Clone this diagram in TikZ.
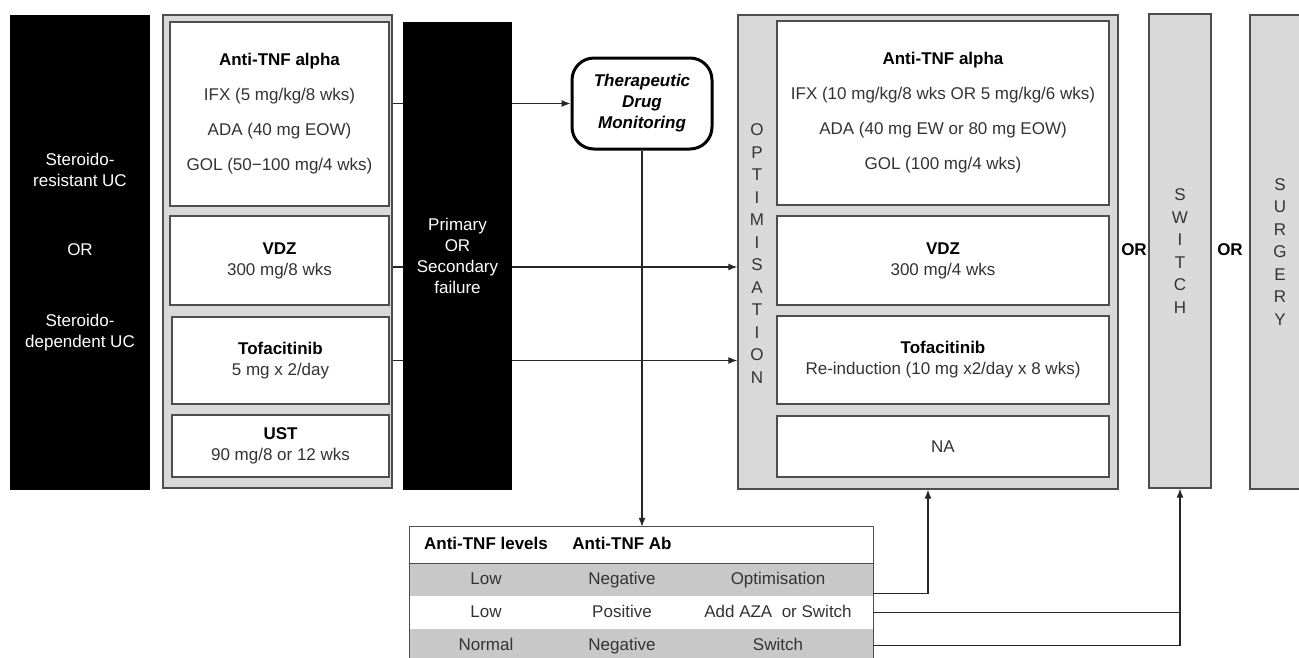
\documentclass[tikz,border=0pt]{standalone}
\usepackage{fontspec}
\setmainfont{Liberation Sans}
\usepackage{tikz}
\usetikzlibrary{arrows.meta}
\usetikzlibrary{backgrounds}
\definecolor{boxgray}{HTML}{D9D9D9}
\definecolor{rowgray}{HTML}{C8C8C8}
\definecolor{linegray}{HTML}{4D4D4D}
\definecolor{txtgray}{HTML}{333333}
\newcommand{\drug}[1]{\textbf{\color{black}#1}}
\tikzstyle{blackcol} = [fill=black,text=white,inner sep=0mm,align=center]
\tikzstyle{graycol} = [draw=linegray,fill=boxgray,line width=1.3pt,inner sep=0mm]
\tikzstyle{drugbox} = [draw=linegray,fill=white,line width=1.3pt,inner sep=0mm,align=center,text=txtgray]
\tikzstyle{vword} = [align=center,text=txtgray,font=\fontsize{17}{22.5}\selectfont]
\tikzstyle{orword} = [inner sep=0mm,font=\bfseries]
\tikzstyle{tdmbox} = [draw,fill=white,line width=3pt,rounded corners=22pt,align=center,inner sep=0mm,font=\bfseries\itshape,minimum width=140pt,minimum height=91pt]
\tikzstyle{trow} = [inner sep=0mm,minimum width=463pt]
\tikzstyle{cell} = [inner sep=0mm,text=txtgray,text height=12.5pt,text depth=3.5pt]
\tikzstyle{conn} = [draw=black!85,line width=1.2pt]
\tikzstyle{arr} = [conn,-{Latex[length=9pt,width=7pt]}]

\begin{document}
\fontsize{17}{21}\selectfont
\begin{tikzpicture}[x=1pt,y=-1pt]
\path[use as bounding box,clip] (0,0) rectangle (1299,657);

% patients
\draw(80,252.5) node[blackcol,minimum width=140pt,minimum height=475pt] (uc) {Steroido-\\resistant UC\\[48pt]OR\\[50pt]Steroido-\\dependent UC};

% first line
\draw(277.5,251.5) node[graycol,minimum width=229pt,minimum height=473pt] (first) {};
\draw(279.5,114) node[drugbox,minimum width=219pt,minimum height=184pt] (atnf1) {\drug{Anti-TNF alpha}\\[14pt]IFX (5 mg/kg/8 wks)\\[14pt]ADA (40 mg EOW)\\[14pt]GOL (50−100 mg/4 wks)};
\draw(279.5,260.5) node[drugbox,minimum width=219pt,minimum height=89pt] (vdz1) {\drug{VDZ}\\300 mg/8 wks};
\draw(280.5,360.5) node[drugbox,minimum width=217pt,minimum height=87pt] (tofa1) {\drug{Tofacitinib}\\5 mg x 2/day};
\draw(280.5,446) node[drugbox,minimum width=217pt,minimum height=62pt] (ust1) {\drug{UST}\\90 mg/8 or 12 wks};

% failure
\draw(457.5,256) node[blackcol,minimum width=109pt,minimum height=468pt] (fail) {Primary\\OR\\Secondary\\failure};

\draw(642,103.5) node[tdmbox] (tdm) {Therapeutic\\Drug\\Monitoring};

% optimisation
\draw(928,252) node[graycol,minimum width=380pt,minimum height=474pt] (opt) {};
\draw(757,253.5) node[vword] (optword) {O\\P\\T\\I\\M\\I\\S\\A\\T\\I\\O\\N};
\draw(943,113) node[drugbox,minimum width=332pt,minimum height=184pt] (atnf2) {\drug{Anti-TNF alpha}\\[14pt]IFX (10 mg/kg/8 wks OR 5 mg/kg/6 wks)\\[14pt]ADA (40 mg EW or 80 mg EOW)\\[14pt]GOL (100 mg/4 wks)};
\draw(943,260.5) node[drugbox,minimum width=332pt,minimum height=89pt] (vdz2) {\drug{VDZ}\\300 mg/4 wks};
\draw(943,360) node[drugbox,minimum width=332pt,minimum height=88pt] (tofa2) {\drug{Tofacitinib}\\Re-induction (10 mg x2/day x 8 wks)};
\draw(943,446.5) node[drugbox,minimum width=332pt,minimum height=61pt] (na2) {NA};

% switch / surgery
\draw(1134,250) node[orword] (or1) {OR};
\draw(1180,251) node[graycol,vword,minimum width=62pt,minimum height=474pt] (switch) {S\\W\\I\\T\\C\\H};
\draw(1230,250) node[orword] (or2) {OR};
\draw(1280,252) node[graycol,vword,minimum width=60pt,minimum height=474pt] (surgery) {S\\U\\R\\G\\E\\R\\Y};

% TDM table
\draw(641.5,545) node[trow,fill=white,minimum height=36pt] (hdr) {};
\draw(641.5,579.5) node[trow,fill=rowgray,minimum height=33pt] (row1) {};
\draw(641.5,612.5) node[trow,fill=white,minimum height=33pt] (row2) {};
\draw(641.5,645.5) node[trow,fill=rowgray,minimum height=33pt] (row3) {};
\draw[linegray,line width=1.3pt] (row3.south west) |- (hdr.north east) -- (row3.south east);
\draw[linegray,line width=1.3pt] (hdr.south west) -- (hdr.south east);
\draw(486,545) node[cell,text=black,font=\bfseries] (h1) {Anti-TNF levels};
\draw(622,545) node[cell,text=black,font=\bfseries] (h2) {Anti-TNF Ab};
\draw(486,579.5) node[cell] (r1a) {Low};
\draw(622,579.5) node[cell] (r1b) {Negative};
\draw(778,579.5) node[cell] (r1c) {Optimisation};
\draw(486,612.5) node[cell] (r2a) {Low};
\draw(622,612.5) node[cell] (r2b) {Positive};
\draw(778,612.5) node[cell] (r2c) {Add AZA\ \ or Switch};
\draw(486,645.5) node[cell] (r3a) {Normal};
\draw(622,645.5) node[cell] (r3b) {Negative};
\draw(778,645.5) node[cell] (r3c) {Switch};

% arrows
\begin{pgfonlayer}{background}
\draw[arr] (atnf1.east |- tdm.west) -- (tdm.west);
\draw[arr] ([yshift=-6.5pt]vdz1.east) -- ([yshift=-6.5pt]vdz1.east -| opt.west);
\draw[arr] (tofa1.east) -- (tofa1.east -| opt.west);
\end{pgfonlayer}
\draw[arr] (tdm.south) -- (tdm.south |- hdr.north);
\draw[arr] ([yshift=-14pt]row1.east) -| (opt.south);
\draw[arr] (row2.east) -| (switch.south);
\draw[conn] (row3.east) -| (row2.east -| switch.south);

\end{tikzpicture}
\end{document}
